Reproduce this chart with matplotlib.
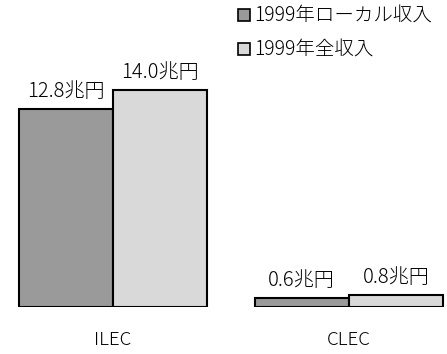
import matplotlib.pyplot as plt
import numpy as np
from matplotlib.patches import Patch

plt.rcParams['font.family'] = ['Noto Sans CJK JP', 'DejaVu Sans']
plt.rcParams['font.weight'] = 'light'

categories = ['ILEC', 'CLEC']
local_rev = [12.8, 0.6]   # 1999年ローカル収入 (兆円)
total_rev = [14.0, 0.8]   # 1999年全収入 (兆円)
series_names = ['1999年ローカル収入', '1999年全収入']
colors = ['#9a9a9a', '#d9d9d9']

fig = plt.figure(figsize=(4.47, 3.54), dpi=100)
ax = fig.add_axes([0, 47 / 354, 1, 307 / 354])

x = np.arange(len(categories))
w = 0.4
b1 = ax.bar(x - w / 2, local_rev, w, color=colors[0], edgecolor='black', linewidth=1.5)
b2 = ax.bar(x + w / 2, total_rev, w, color=colors[1], edgecolor='black', linewidth=1.5)

for bars, vals in [(b1, local_rev), (b2, total_rev)]:
    for r, v in zip(bars, vals):
        ax.annotate(f'{v:.1f}兆円', (r.get_x() + r.get_width() / 2, v),
                    xytext=(0, 5), textcoords='offset points',
                    ha='center', va='bottom', fontsize=14.5)

ax.set_xlim(-113 / 236, 334 / 236)
ax.set_ylim(0, 307 / 15.5)
ax.set_xticks(x)
ax.set_xticklabels(categories, fontsize=13.5)
ax.tick_params(axis='x', length=0, pad=17)
ax.set_yticks([])
for s in ax.spines.values():
    s.set_visible(False)

handles = [Patch(facecolor=c, edgecolor='black', linewidth=1.2) for c in colors]
fig.legend(handles, series_names, loc='upper left', bbox_to_anchor=(238 / 447, 1 - 6 / 354),
           frameon=False, fontsize=14, handlelength=0.6, handleheight=0.6,
           handletextpad=0.25, labelspacing=0.65, borderpad=0, borderaxespad=0)

fig.savefig('out.png', dpi=100)
